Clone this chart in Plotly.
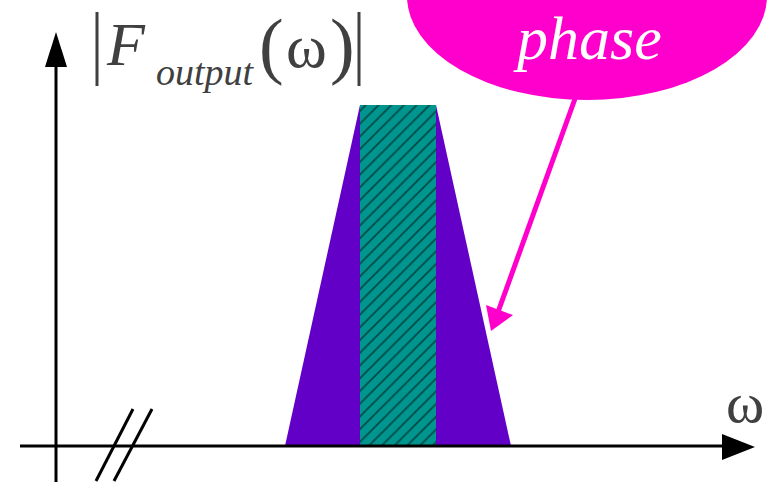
import plotly.graph_objects as go

# ---- data (pixel-space diagram coordinates, y grows downward) ----
trap_x = [285, 360, 436, 511]
trap_y = [446, 105, 105, 446]
band_x = [360, 436, 436, 360]
band_y = [446, 446, 105, 105]

x_axis = dict(x0=20, x1=724, y=446)
y_axis = dict(x=56, y0=482, y1=66)

PURPLE = "#6300C8"
TEAL = "#00968F"
MAGENTA = "#FF00CC"
GRAY = "#404040"

fig = go.Figure()

fig.add_trace(go.Scatter(x=trap_x + [trap_x[0]], y=trap_y + [trap_y[0]], fill="toself",
                         fillcolor=PURPLE, line=dict(width=0), mode="lines", hoverinfo="skip"))
fig.add_trace(go.Scatter(x=band_x + [band_x[0]], y=band_y + [band_y[0]], fill="toself",
                         fillcolor=TEAL, line=dict(width=0), mode="lines", hoverinfo="skip",
                         fillpattern=dict(shape="/", bgcolor=TEAL, fgcolor="black",
                                          size=9, solidity=0.2)))

shapes = []
# axes
shapes.append(dict(type="line", x0=x_axis["x0"], x1=x_axis["x1"], y0=x_axis["y"], y1=x_axis["y"],
                   line=dict(color="black", width=3)))
shapes.append(dict(type="path", path="M 722 434 L 755 447 L 722 460 Z",
                   fillcolor="black", line=dict(width=0)))
shapes.append(dict(type="line", x0=y_axis["x"], x1=y_axis["x"], y0=y_axis["y0"], y1=y_axis["y1"],
                   line=dict(color="black", width=3)))
shapes.append(dict(type="path", path="M 45 67 L 56 32 L 67 67 Z",
                   fillcolor="black", line=dict(width=0)))
# axis break
shapes.append(dict(type="line", x0=96, y0=481, x1=133, y1=409, line=dict(color="black", width=3)))
shapes.append(dict(type="line", x0=114, y0=481, x1=152, y1=409, line=dict(color="black", width=3)))
# bubble
shapes.append(dict(type="circle", x0=407, x1=767, y0=-108, y1=100,
                   fillcolor=MAGENTA, line=dict(width=0)))
# pointer arrow
shapes.append(dict(type="line", x0=576, y0=96, x1=498, y1=312, line=dict(color=MAGENTA, width=5)))
shapes.append(dict(type="path", path="M 486 305 L 491 331 L 513 315 Z",
                   fillcolor=MAGENTA, line=dict(width=0)))
# magnitude bars
shapes.append(dict(type="line", x0=97, x1=97, y0=12, y1=86, line=dict(color=GRAY, width=3)))
shapes.append(dict(type="line", x0=359, x1=359, y0=12, y1=86, line=dict(color=GRAY, width=3)))

serif = "Liberation Serif"
ann = []
def txt(x, y, s, size, color=GRAY, italic=False):
    ann.append(dict(x=x, y=y, text=(f"<i>{s}</i>" if italic else s), showarrow=False,
                    xanchor="center", yanchor="middle",
                    font=dict(family=serif, size=size, color=color)))

txt(126, 44, "F", 62, italic=True)
txt(205, 72, "output", 38, italic=True)
txt(271, 45, "(", 74)
txt(306, 46, "ω", 62)
txt(342, 45, ")", 74)
txt(745, 402, "ω", 58)
txt(587, 38, "phase", 62, color="white", italic=True)

fig.update_layout(
    width=771, height=482, margin=dict(l=0, r=0, t=0, b=0),
    paper_bgcolor="white", plot_bgcolor="white", showlegend=False,
    xaxis=dict(range=[0, 771], visible=False, fixedrange=True),
    yaxis=dict(range=[482, 0], visible=False, fixedrange=True),
    shapes=shapes, annotations=ann,
)
fig.write_html("out.html", post_script="document.body.style.margin='0';",
               config={"displayModeBar": False})
